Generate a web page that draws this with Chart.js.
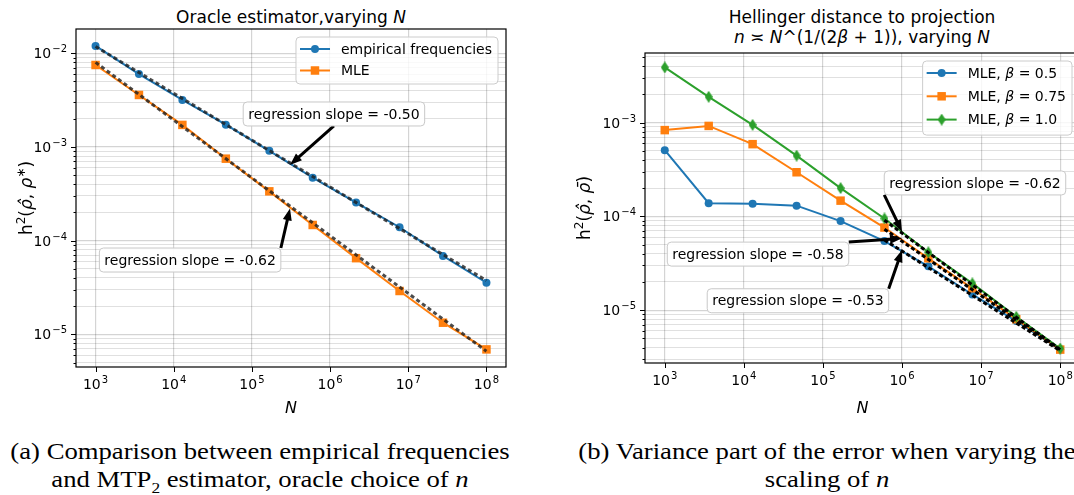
<!DOCTYPE html>
<html>
<head>
<meta charset="utf-8">
<script src="https://cdn.jsdelivr.net/npm/chart.js@4"></script>
<style>
  html, body { margin: 0; padding: 0; background: #fff; }
  #page { position: relative; width: 1074px; height: 495px; overflow: hidden; font-family: "DejaVu Sans", sans-serif; color: #000; }
  canvas { position: absolute; top: 0; }
  .title { position: absolute; transform: translateX(-50%); font-size: 17px; line-height: 20px; white-space: nowrap; text-align: center; }
  .caption { position: absolute; transform: translateX(-50%) scaleX(1.16); font-family: "Liberation Serif", serif; font-size: 23px; line-height: 28px; white-space: nowrap; text-align: center; }
</style>
</head>
<body>
<div id="page">
  <div class="title" style="left:291px; top:7px;">Oracle estimator,varying <i>N</i></div>
  <div class="title" style="left:862px; top:7px;">Hellinger distance to projection<br><i>n</i> ≍ <i>N</i>^(1/(2<i>β</i> + 1)), varying <i>N</i></div>
  <canvas id="chartA" width="560" height="420" style="left:0px;"></canvas>
  <canvas id="chartB" width="540" height="420" style="left:560px;"></canvas>
  <div class="caption" style="left:260px; top:438px;">(a) Comparison between empirical frequencies<br>and MTP<sub style="font-size:15px; line-height:0;">2</sub> estimator, oracle choice of <i>n</i></div>
  <div class="caption" style="left:827px; top:438px;">(b) Variance part of the error when varying the<br>scaling of <i>n</i></div>
</div>
<script>
// valeurs
const sampleSizes = [1e3, 3.59e3, 1.29e4, 4.64e4, 1.67e5, 5.99e5, 2.15e6, 7.74e6, 2.78e7, 1e8];

// (a) estimateur oracle
const empiricalFreq = [0.0120, 0.0060, 0.00318, 0.00173, 0.00091, 0.00047, 0.000255, 0.000139, 0.0000687, 0.0000355];
const mleOracle = [0.0075, 0.00359, 0.00172, 0.00075, 0.000336, 0.000147, 0.000065, 0.000029, 0.0000133, 0.0000069];
const fitSizesA = [1e3, 1e8];
const fitEmpirical = [0.0118, 0.0000375];
const fitMleOracle = [0.0080, 0.0000066];

// (b) distance a la projection
const mleBeta05 = [5.07e-4, 1.38e-4, 1.36e-4, 1.30e-4, 8.9e-5, 5.45e-5, 2.93e-5, 1.47e-5, 7.65e-6, 3.82e-6];
const mleBeta075 = [8.3e-4, 9.2e-4, 5.88e-4, 2.95e-4, 1.47e-4, 7.6e-5, 3.57e-5, 1.71e-5, 8.0e-6, 3.8e-6];
const mleBeta10 = [3.87e-3, 1.88e-3, 9.45e-4, 4.44e-4, 2.0e-4, 9.5e-5, 4.14e-5, 1.93e-5, 8.5e-6, 3.9e-6];
const fitSizesB = [5.99e5, 1e8];
const fitBeta05 = [5.6e-5, 3.7e-6];
const fitBeta075 = [7.3e-5, 3.75e-6];
const fitBeta10 = [9.1e-5, 3.8e-6];

// graduations
const xTicks = [1e3, 1e4, 1e5, 1e6, 1e7, 1e8];
const xTickLabels = ['10^3', '10^4', '10^5', '10^6', '10^7', '10^8'];
const yTicks = [1e-5, 1e-4, 1e-3, 1e-2];
const yTickLabels = ['10^−5', '10^−4', '10^−3', '10^−2'];

const FONT = '"DejaVu Sans", sans-serif';
const BLUE = '#1f77b4', ORANGE = '#ff7f0e', GREEN = '#2ca02c';

function pairs(xs, ys) {
  return xs.map((x, i) => ({ x: x, y: ys[i] }));
}

function labelFor(values, labels, v) {
  const i = values.findIndex(t => Math.abs(t - v) / t < 1e-6);
  return i < 0 ? '' : labels[i];
}

// graduations mineures 2..9 x 10^k
function logTicks(lo, hi) {
  const out = [];
  for (let e = Math.floor(Math.log10(lo)); e <= Math.ceil(Math.log10(hi)); e++) {
    for (let m = 1; m <= 9; m++) {
      const v = m * Math.pow(10, e);
      if (v >= lo && v <= hi) out.push({ value: v, major: m === 1 });
    }
  }
  return out;
}

// losange fin (marqueur 'd')
function thinDiamond(color) {
  const c = document.createElement('canvas');
  c.width = 8; c.height = 12;
  const g = c.getContext('2d');
  g.fillStyle = color;
  g.beginPath();
  g.moveTo(4, 0); g.lineTo(8, 6); g.lineTo(4, 12); g.lineTo(0, 6);
  g.closePath();
  g.fill();
  return c;
}

function series(label, ys, color, style, radius, order) {
  return {
    label: label, data: pairs(sampleSizes, ys), inLegend: true,
    borderColor: color, backgroundColor: color, borderWidth: 2,
    pointStyle: style, pointRadius: radius, pointBorderWidth: 0,
    tension: 0, order: order
  };
}

function fitLine(xs, ys, dash, color) {
  return {
    label: '', data: pairs(xs, ys), inLegend: false,
    borderColor: color, borderWidth: 3, borderDash: dash,
    pointRadius: 0, tension: 0, order: 0
  };
}

function roundRect(ctx, x, y, w, h, r) {
  ctx.beginPath();
  ctx.moveTo(x + r, y);
  ctx.arcTo(x + w, y, x + w, y + h, r);
  ctx.arcTo(x + w, y + h, x, y + h, r);
  ctx.arcTo(x, y + h, x, y, r);
  ctx.arcTo(x, y, x + w, y, r);
  ctx.closePath();
}

function drawArrow(ctx, x0, y0, x1, y1) {
  const dx = x1 - x0, dy = y1 - y0, L = Math.hypot(dx, dy);
  const ux = dx / L, uy = dy / L, px = -uy, py = ux;
  const hl = 12, hw = 4.5, sw = 1.5;
  const bx = x1 - ux * hl, by = y1 - uy * hl;
  ctx.beginPath();
  ctx.moveTo(x0 + px * sw, y0 + py * sw);
  ctx.lineTo(bx + px * sw, by + py * sw);
  ctx.lineTo(bx + px * hw, by + py * hw);
  ctx.lineTo(x1, y1);
  ctx.lineTo(bx - px * hw, by - py * hw);
  ctx.lineTo(bx - px * sw, by - py * sw);
  ctx.lineTo(x0 - px * sw, y0 - py * sw);
  ctx.closePath();
  ctx.fillStyle = '#000';
  ctx.fill();
}

function drawNote(ctx, xs, ys, n) {
  ctx.font = '14px ' + FONT;
  const w = ctx.measureText(n.text).width;
  const cx = xs.getPixelForValue(n.at[0]), cy = ys.getPixelForValue(n.at[1]);
  const tx = xs.getPixelForValue(n.tip[0]), ty = ys.getPixelForValue(n.tip[1]);
  const l = cx - w / 2 - 5, r = cx + w / 2 + 5, t = cy - 12, b = cy + 12;
  const closest = (arr, v) => arr.reduce((p, q) => Math.abs(q - v) < Math.abs(p - v) ? q : p);
  drawArrow(ctx, closest([l, cx, r], tx), closest([t, cy, b], ty), tx, ty);
  roundRect(ctx, l, t, r - l, b - t, 4);
  ctx.fillStyle = 'rgba(255,255,255,0.92)';
  ctx.fill();
  ctx.strokeStyle = '#c8c8c8';
  ctx.lineWidth = 1;
  ctx.stroke();
  ctx.fillStyle = '#000';
  ctx.textAlign = 'center';
  ctx.textBaseline = 'middle';
  ctx.fillText(n.text, cx, cy + 1);
}

// "10^k" avec exposant sureleve
function drawPower(ctx, label, x, y, align) {
  const parts = label.split('^');
  ctx.font = '14px ' + FONT;
  const bw = ctx.measureText(parts[0]).width;
  ctx.font = '10px ' + FONT;
  const ew = ctx.measureText(parts[1]).width;
  const total = bw + 1 + ew;
  const x0 = align === 'center' ? x - total / 2 : x - total;
  ctx.fillStyle = '#000';
  ctx.textAlign = 'left';
  ctx.textBaseline = 'alphabetic';
  ctx.font = '14px ' + FONT;
  ctx.fillText(parts[0], x0, y);
  ctx.font = '10px ' + FONT;
  ctx.fillText(parts[1], x0 + bw + 1, y - 6);
}

// titre d'axe vertical, morceaux italiques / exposants
function richFont(p, size) {
  return (p.it ? 'italic ' : '') + (p.sup ? Math.round(size * 0.7) : size) + 'px ' + FONT;
}

function drawYTitle(ctx, parts, x, cy, size) {
  let total = 0;
  parts.forEach(p => { ctx.font = richFont(p, size); total += ctx.measureText(p.t).width; });
  ctx.save();
  ctx.translate(x, cy);
  ctx.rotate(-Math.PI / 2);
  ctx.fillStyle = '#000';
  ctx.textAlign = 'left';
  ctx.textBaseline = 'alphabetic';
  let pos = -total / 2;
  parts.forEach(p => {
    ctx.font = richFont(p, size);
    ctx.fillText(p.t, pos, p.sup ? -size * 0.42 : 0);
    pos += ctx.measureText(p.t).width;
  });
  ctx.restore();
}

// texte avec beta en italique
function labelParts(text) {
  return text.split(/(β)/).filter(p => p.length);
}

function labelWidth(ctx, text) {
  let w = 0;
  labelParts(text).forEach(p => {
    ctx.font = (p === 'β' ? 'italic ' : '') + '14px ' + FONT;
    w += ctx.measureText(p).width;
  });
  return w;
}

function drawMarker(ctx, d, x, y) {
  const s = d.pointStyle, r = d.pointRadius;
  ctx.fillStyle = d.borderColor;
  if (s instanceof HTMLCanvasElement) {
    ctx.drawImage(s, x - s.width / 2, y - s.height / 2);
  } else if (s === 'rect') {
    const h = r * Math.SQRT1_2;
    ctx.fillRect(x - h, y - h, 2 * h, 2 * h);
  } else {
    ctx.beginPath();
    ctx.arc(x, y, r, 0, 2 * Math.PI);
    ctx.fill();
  }
}

function drawLegend(chart, lg) {
  const { ctx, chartArea: a } = chart;
  const items = chart.data.datasets.filter(d => d.inLegend);
  const textW = Math.max(...items.map(d => labelWidth(ctx, d.label)));
  const w = 4 + 30 + 11 + textW + 6;
  const h = 12 + (items.length - 1) * lg.rowHeight + lg.bottomPad;
  const right = a.right - 8, top = a.top + 8, left = right - w;
  roundRect(ctx, left, top, w, h, 4);
  ctx.fillStyle = 'rgba(255,255,255,0.8)';
  ctx.fill();
  ctx.strokeStyle = '#cccccc';
  ctx.lineWidth = 1;
  ctx.stroke();
  items.forEach((d, i) => {
    const yy = top + 12 + i * lg.rowHeight;
    ctx.strokeStyle = d.borderColor;
    ctx.lineWidth = 2;
    ctx.beginPath();
    ctx.moveTo(left + 4, yy);
    ctx.lineTo(left + 34, yy);
    ctx.stroke();
    drawMarker(ctx, d, left + 19, yy);
    let x = left + 45;
    ctx.fillStyle = '#000';
    ctx.textAlign = 'left';
    ctx.textBaseline = 'middle';
    labelParts(d.label).forEach(p => {
      ctx.font = (p === 'β' ? 'italic ' : '') + '14px ' + FONT;
      ctx.fillText(p, x, yy + 1);
      x += ctx.measureText(p).width;
    });
  });
}

const decor = {
  id: 'decor',
  afterDatasetsDraw(chart, args, opts) {
    const { ctx, chartArea: a } = chart;
    const xs = chart.scales.x, ys = chart.scales.y;
    ctx.save();
    ctx.strokeStyle = '#000';
    ctx.lineWidth = 1;
    ctx.beginPath();
    xs.ticks.forEach(t => {
      const p = Math.round(xs.getPixelForValue(t.value)) + 0.5;
      ctx.moveTo(p, a.bottom);
      ctx.lineTo(p, a.bottom + 5);
    });
    ys.ticks.forEach(t => {
      const p = Math.round(ys.getPixelForValue(t.value)) + 0.5;
      ctx.moveTo(a.left, p);
      ctx.lineTo(a.left - (t.major ? 5 : 2.5), p);
    });
    ctx.stroke();
    ctx.lineWidth = 1.2;
    ctx.strokeRect(a.left, a.top, a.right - a.left, a.bottom - a.top);

    xs.ticks.forEach(t => drawPower(ctx, labelFor(xTicks, xTickLabels, t.value), xs.getPixelForValue(t.value), a.bottom + 22, 'center'));
    ys.ticks.filter(t => t.major).forEach(t => {
      const lab = labelFor(yTicks, yTickLabels, t.value);
      if (lab) drawPower(ctx, lab, a.left - 9, ys.getPixelForValue(t.value) + 5, 'right');
    });
    drawYTitle(ctx, opts.yTitle, opts.yTitleX, (a.top + a.bottom) / 2, 17);

    (opts.notes || []).forEach(n => drawNote(ctx, xs, ys, n));
    if (opts.legend) drawLegend(chart, opts.legend);
    ctx.restore();
  }
};

function axes(c) {
  return {
    x: {
      type: 'logarithmic', min: c.xMin, max: c.xMax, bounds: 'data',
      afterBuildTicks: s => { s.ticks = xTicks.map(v => ({ value: v, major: true })); },
      afterFit: s => { s.height = c.xHeight; },
      ticks: { display: false },
      grid: { drawTicks: false, color: 'rgba(0,0,0,0.17)', lineWidth: 1.2 },
      border: { display: false },
      title: { display: true, text: 'N', color: '#000', font: { family: FONT, size: 16, style: 'italic' }, padding: { top: 0, bottom: 2 } }
    },
    y: {
      type: 'logarithmic', min: c.yMin, max: c.yMax, bounds: 'data',
      afterBuildTicks: s => { s.ticks = logTicks(c.yMin, c.yMax); },
      afterFit: s => { s.width = c.yWidth; },
      ticks: { display: false },
      grid: {
        drawTicks: false,
        color: g => g.tick && g.tick.major ? 'rgba(0,0,0,0.17)' : 'rgba(0,0,0,0.12)',
        lineWidth: g => g.tick && g.tick.major ? 1.2 : 1
      },
      border: { display: false },
      title: { display: false }
    }
  };
}

function baseOptions(c, decorOpts) {
  return {
    responsive: false, animation: false, events: [],
    layout: { padding: c.padding },
    scales: axes(c),
    plugins: { legend: { display: false }, tooltip: { enabled: false }, decor: decorOpts }
  };
}

// (a)
new Chart(document.getElementById('chartA'), {
  type: 'line',
  data: {
    datasets: [
      fitLine(fitSizesA, fitEmpirical, [4, 3], 'rgba(30,30,30,0.8)'),
      fitLine(fitSizesA, fitMleOracle, [4, 3], 'rgba(30,30,30,0.8)'),
      series('empirical frequencies', empiricalFreq, BLUE, 'circle', 4, 2),
      series('MLE', mleOracle, ORANGE, 'rect', 6, 1)
    ]
  },
  options: baseOptions({
    xMin: Math.pow(10, 2.75), xMax: Math.pow(10, 8.25),
    yMin: Math.pow(10, -5.349), yMax: Math.pow(10, -1.7406),
    xHeight: 53, yWidth: 76,
    padding: { top: 29, right: 54, bottom: 0, left: 0 }
  }, {
    yTitle: [{ t: 'h' }, { t: '2', sup: true }, { t: '(' }, { t: 'ρ̂', it: true }, { t: ', ' }, { t: 'ρ', it: true }, { t: '∗', sup: true }, { t: ')' }],
    yTitleX: 32,
    legend: { rowHeight: 21.5, bottomPad: 13.5 },
    notes: [
      { text: 'regression slope = -0.50', at: [1.12e6, 2.25e-3], tip: [3.07e5, 6.43e-4] },
      { text: 'regression slope = -0.62', at: [1.62e4, 6.21e-5], tip: [3.07e5, 2.21e-4] }
    ]
  }),
  plugins: [decor]
});

// (b)
new Chart(document.getElementById('chartB'), {
  type: 'line',
  data: {
    datasets: [
      fitLine(fitSizesB, fitBeta05, [4, 2.5], '#000'),
      fitLine(fitSizesB, fitBeta075, [4, 2.5], '#000'),
      fitLine(fitSizesB, fitBeta10, [4, 2.5], '#000'),
      series('MLE, β = 0.5', mleBeta05, BLUE, 'circle', 4, 3),
      series('MLE, β = 0.75', mleBeta075, ORANGE, 'rect', 6, 2),
      series('MLE, β = 1.0', mleBeta10, GREEN, thinDiamond(GREEN), 5, 1)
    ]
  },
  options: baseOptions({
    xMin: Math.pow(10, 2.75), xMax: Math.pow(10, 8.25),
    yMin: Math.pow(10, -5.563), yMax: Math.pow(10, -2.259),
    xHeight: 57, yWidth: 85,
    padding: { top: 53, right: 20, bottom: 0, left: 0 }
  }, {
    yTitle: [{ t: 'h' }, { t: '2', sup: true }, { t: '(' }, { t: 'ρ̂', it: true }, { t: ', ' }, { t: 'ρ̄', it: true }, { t: ')' }],
    yTitleX: 30,
    legend: { rowHeight: 23.3, bottomPad: 15.5 },
    notes: [
      { text: 'regression slope = -0.62', at: [8.36e6, 2.27e-4], tip: [1e6, 6.85e-5] },
      { text: 'regression slope = -0.58', at: [1.51e4, 3.96e-5], tip: [1e6, 5.83e-5] },
      { text: 'regression slope = -0.53', at: [4.83e4, 1.26e-5], tip: [1e6, 4.37e-5] }
    ]
  }),
  plugins: [decor]
});
</script>
</body>
</html>
